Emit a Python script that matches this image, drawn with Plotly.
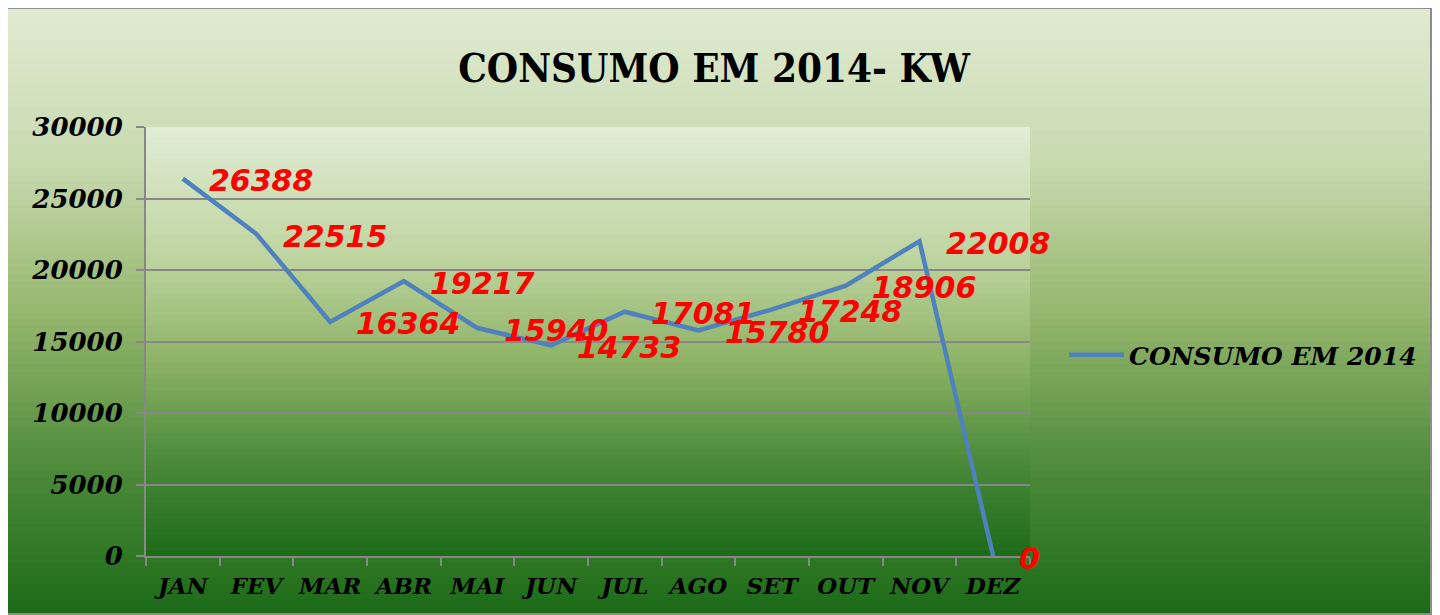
import plotly.graph_objects as go

months = ["JAN", "FEV", "MAR", "ABR", "MAI", "JUN", "JUL", "AGO", "SET", "OUT", "NOV", "DEZ"]
consumo = [26388, 22515, 16364, 19217, 15940, 14733, 17081, 15780, 17248, 18906, 22008, 0]
y_ticks = [0, 5000, 10000, 15000, 20000, 25000, 30000]
y_tick_text = ["0", "5000", "10000", "15000", "20000", "25000", "30000"]
title_text = "CONSUMO EM 2014- KW"
series_name = "CONSUMO EM 2014"

W, H = 1440, 615
OFF = 8  # page body margin
L, R, T, B = 146 - OFF, 1030 - OFF, 127 - OFF, 556 - OFF


def px_to_paper(px, py):
    px -= OFF
    py -= OFF
    return (px - L) / (R - L), (B - py) / (B - T)


def lerp_color(stops, t):
    for i in range(len(stops) - 1):
        t0, c0 = stops[i]
        t1, c1 = stops[i + 1]
        if t0 <= t <= t1:
            f = (t - t0) / (t1 - t0) if t1 > t0 else 0
            c = [round(c0[k] + (c1[k] - c0[k]) * f) for k in range(3)]
            return "rgb(%d,%d,%d)" % tuple(c)
    c = stops[-1][1]
    return "rgb(%d,%d,%d)" % tuple(c)


outer_stops = [(0.0, (223, 234, 208)), (0.25, (200, 218, 176)), (0.5, (150, 183, 110)),
               (0.75, (80, 140, 60)), (1.0, (28, 107, 24))]
inner_stops = [(0.0, (224, 236, 212)), (0.3, (190, 212, 160)), (0.55, (140, 178, 100)),
               (0.8, (70, 135, 55)), (1.0, (30, 108, 26))]

shapes = []
N = 80
top_y, bot_y = 8, 615
for i in range(N):
    y0p = top_y + (bot_y - top_y) * i / N
    y1p = top_y + (bot_y - top_y) * (i + 1) / N + 1
    x0, ya = px_to_paper(6, y0p)
    x1, yb = px_to_paper(1430, y1p)
    col = lerp_color(outer_stops, i / (N - 1))
    shapes.append(dict(type="rect", xref="paper", yref="paper", x0=x0, x1=x1, y0=yb, y1=ya,
                       fillcolor=col, line=dict(width=0), layer="below"))
for i in range(N):
    y0 = 1 - i / N
    y1 = 1 - (i + 1) / N - 0.003
    col = lerp_color(inner_stops, i / (N - 1))
    shapes.append(dict(type="rect", xref="paper", yref="paper", x0=0, x1=1, y0=max(y1, 0), y1=y0,
                       fillcolor=col, line=dict(width=0), layer="below"))
bx0, by0 = px_to_paper(6, 8)
bx1, by1 = px_to_paper(1431, 614)
shapes.append(dict(type="rect", xref="paper", yref="paper", x0=bx0, x1=bx1, y0=by1, y1=by0,
                   fillcolor="rgba(0,0,0,0)", line=dict(color="#8c8c8c", width=2), layer="above"))

fig = go.Figure()
fig.add_trace(go.Scatter(
    x=months, y=consumo, mode="lines", name=series_name,
    line=dict(color="#4F81BD", width=4.5), cliponaxis=False,
))

annotations = []
for m, v in zip(months, consumo):
    annotations.append(dict(
        x=m, y=v, xref="x", yref="y", text=str(v), showarrow=False,
        xanchor="left", yanchor="middle", xshift=24, yshift=-2,
        font=dict(family="DejaVu Sans", size=30, color="#ff0000", weight="bold", style="italic"),
    ))

lx, ly = px_to_paper(1064, 355)
fig.update_layout(
    width=W, height=H,
    margin=dict(l=L, r=W - R, t=T, b=H - B, autoexpand=False),
    paper_bgcolor="white",
    plot_bgcolor="rgba(0,0,0,0)",
    shapes=shapes,
    annotations=annotations,
    title=dict(text=title_text, x=(714 - OFF) / W, xanchor="center", y=1 - (68 - OFF) / H, yanchor="middle",
               font=dict(family="DejaVu Serif Condensed, DejaVu Serif", size=40, color="black", weight="bold")),
    showlegend=True,
    legend=dict(x=lx, y=ly, xanchor="left", yanchor="middle", bgcolor="rgba(0,0,0,0)",
                font=dict(family="DejaVu Serif", size=25, color="black", weight="bold", style="italic"),
                itemwidth=55),
    xaxis=dict(
        type="category", range=[-0.5, 11.5], showgrid=False,
        showline=True, linecolor="#888888", linewidth=2,
        ticks="outside", ticklen=8, tickcolor="#888888", tickwidth=2,
        tickson="boundaries", tickangle=0, automargin=False, ticklabelstandoff=8,
        tickfont=dict(family="DejaVu Serif", size=23, color="black", weight="bold", style="italic"),
    ),
    yaxis=dict(
        range=[0, 30000], tickvals=y_ticks, ticktext=y_tick_text, showgrid=True,
        gridcolor="#888888", gridwidth=2, automargin=False,
        showline=True, linecolor="#888888", linewidth=2, zeroline=False,
        ticks="outside", ticklen=8, tickcolor="#888888", tickwidth=2, ticklabelstandoff=8,
        tickfont=dict(family="DejaVu Serif", size=26, color="black", weight="bold", style="italic"),
    ),
)

fig.write_html("out.html")
